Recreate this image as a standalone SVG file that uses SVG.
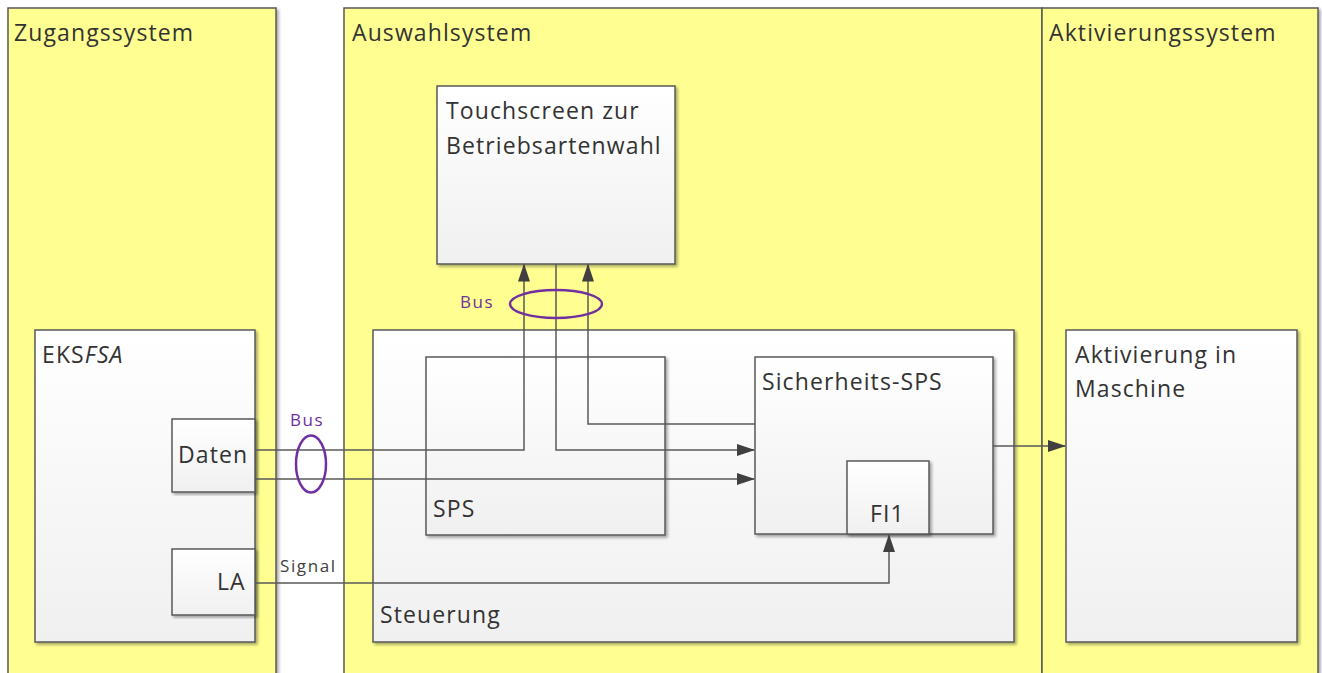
<svg xmlns="http://www.w3.org/2000/svg" width="1322" height="673" viewBox="0 0 1322 673">
<defs>
<linearGradient id="bg" x1="0" y1="0" x2="0" y2="1">
<stop offset="0" stop-color="#ffffff"/>
<stop offset="1" stop-color="#f0f0f0"/>
</linearGradient>
<filter id="sh" x="-5%" y="-5%" width="110%" height="110%">
<feDropShadow dx="2" dy="2" stdDeviation="1.5" flood-color="#000" flood-opacity="0.35"/>
</filter>
<marker id="ah" viewBox="0 0 18 12" refX="17" refY="6" markerWidth="18" markerHeight="12" markerUnits="userSpaceOnUse" orient="auto">
<path d="M0,0 L18,6 L0,12 Z" fill="#404040"/>
</marker>
</defs>
<style>
.lane{fill:#ffff91;stroke:#595959;stroke-width:1.5;filter:url(#sh)}
.box{fill:url(#bg);stroke:#595959;stroke-width:1.5;filter:url(#sh)}
.t{font-family:"Open Sans","Noto Sans",sans-serif;font-size:23px;letter-spacing:1.1px;fill:#333333}
.s{font-family:"Open Sans","Noto Sans",sans-serif;font-size:17px;letter-spacing:1.6px}
.bus{fill:#7030a0}
.sig{fill:#404040}
.c{fill:none;stroke:#595959;stroke-width:1.5}
.ring{fill:none;stroke:#7030a0;stroke-width:2.5}
</style>
<rect width="1322" height="673" fill="#ffffff"/>
<g id="lane-zugang"><rect class="lane" x="8" y="8" width="268" height="680"/><text class="t" x="14" y="41">Zugangssystem</text></g>
<g id="lane-auswahl"><rect class="lane" x="344" y="8" width="698" height="680"/><text class="t" x="352" y="41">Auswahlsystem</text></g>
<g id="lane-aktivierung"><rect class="lane" x="1042" y="8" width="276" height="680"/><text class="t" x="1049" y="41">Aktivierungssystem</text></g>
<g id="eks"><rect class="box" x="35" y="330" width="220" height="312"/><text class="t" x="42" y="363">EKS<tspan font-style="italic">FSA</tspan></text></g>
<g id="daten"><rect class="box" x="172" y="419" width="83" height="73"/><text class="t" x="178" y="463">Daten</text></g>
<g id="la"><rect class="box" x="172" y="549" width="83" height="66"/><text class="t" x="217" y="590">LA</text></g>
<g id="touchscreen"><rect class="box" x="437" y="86" width="238" height="178"/><text class="t" x="446" y="119">Touchscreen zur</text><text class="t" x="446" y="154">Betriebsartenwahl</text></g>
<g id="steuerung"><rect class="box" x="373" y="330" width="641" height="312"/><text class="t" x="380" y="623">Steuerung</text></g>
<g id="sps"><rect class="box" x="426" y="357" width="239" height="178"/><text class="t" x="433" y="517">SPS</text></g>
<g id="sicherheits-sps"><rect class="box" x="755" y="357" width="238" height="177"/><text class="t" x="762" y="390">Sicherheits-SPS</text></g>
<g id="fi1"><rect class="box" x="847" y="461" width="82" height="73"/><text class="t" x="870" y="522">FI1</text></g>
<g id="aktivierung"><rect class="box" x="1066" y="330" width="231" height="312"/><text class="t" x="1075" y="363">Aktivierung in</text><text class="t" x="1075" y="397">Maschine</text></g>
<g id="connectors">
<path class="c" d="M255,450 H524 V264.5" marker-end="url(#ah)"/>
<path class="c" d="M556,264 V450 H754" marker-end="url(#ah)"/>
<path class="c" d="M755,424 H588 V264.5" marker-end="url(#ah)"/>
<path class="c" d="M255,479 H754" marker-end="url(#ah)"/>
<path class="c" d="M993,446 H1065" marker-end="url(#ah)"/>
<path class="c" d="M255,583 H889 V535" marker-end="url(#ah)"/>
<ellipse class="ring" cx="311" cy="464" rx="15" ry="28.5"/>
<ellipse class="ring" cx="556" cy="304" rx="46" ry="14"/>
<text class="s bus" x="290" y="426">Bus</text>
<text class="s bus" x="460" y="308">Bus</text>
<text class="s sig" x="280" y="572">Signal</text>
</g>
</svg>
